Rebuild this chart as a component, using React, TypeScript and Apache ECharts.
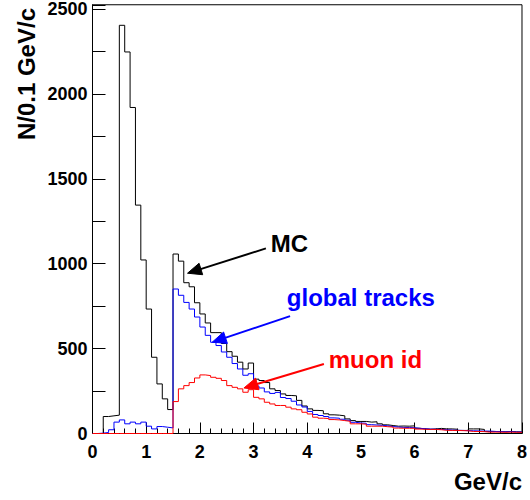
import React, { useEffect, useRef } from "react";
import * as echarts from "echarts";

const BIN_WIDTH = 0.1;
const X_TICK_LABELS = ["0", "1", "2", "3", "4", "5", "6", "7", "8"];
const Y_TICK_LABELS = ["0", "500", "1000", "1500", "2000", "2500"];

// counts per 0.1 GeV/c bin, bins starting at 0.0 .. 7.9
const MC = [
  0, 0, 100, 104, 108, 2404, 2247, 1920, 1345, 1022,
  733, 449, 292, 204, 141, 1057, 1015, 888, 864, 770,
  704, 651, 594, 594, 530, 482, 455, 420, 380, 415,
  320, 312, 300, 263, 253, 233, 224, 222, 195, 162,
  145, 136, 134, 116, 110, 108, 104, 86, 76, 71,
  71, 67, 69, 57, 51, 47, 43, 44, 43, 45,
  31, 27, 25, 27, 30, 27, 27, 25, 18, 18,
  27, 27, 24, 12, 12, 11, 10, 12, 10, 9,
];
const GLOBAL_TRACKS = [
  0, 2, 6, 22, 67, 80, 57, 67, 57, 67,
  43, 27, 41, 37, 33, 851, 814, 772, 733, 686,
  627, 578, 537, 518, 480, 449, 412, 380, 343, 352,
  280, 268, 245, 236, 242, 212, 206, 190, 168, 156,
  130, 112, 106, 100, 92, 90, 84, 78, 66, 62,
  60, 52, 50, 48, 45, 41, 38, 36, 35, 34,
  30, 28, 26, 25, 24, 22, 20, 19, 18, 17,
  16, 15, 14, 14, 12, 11, 10, 11, 9, 9,
];
const MUON_ID = [
  0, 0, 0, 0, 0, 0, 0, 0, 0, 0,
  0, 0, 0, 0, 0, 188, 263, 282, 300, 327,
  345, 341, 331, 325, 312, 282, 272, 263, 243, 258,
  213, 204, 184, 174, 165, 165, 155, 145, 140, 125,
  115, 96, 90, 88, 82, 80, 76, 72, 57, 57,
  55, 43, 43, 43, 40, 38, 32, 31, 31, 31,
  26, 25, 24, 24, 22, 19, 18, 18, 17, 16,
  12, 12, 11, 8, 8, 8, 7, 8, 7, 7,
];

// annotations in data coordinates: [label, color, labelX, labelY, arrowFrom, arrowTip]
const ANNOTATIONS: [string, string, number, number, number[], number[]][] = [
  ["MC", "#000000", 3.32, 1120, [3.23, 1090], [1.77, 944]],
  ["global tracks", "#0000ff", 3.62, 800, [3.68, 691], [2.23, 538]],
  ["muon id", "#ff0000", 4.4, 438, [4.31, 409], [2.82, 268]],
];

const FONT = '"Liberation Sans", Arial, Helvetica, sans-serif';

function histData(vals: number[]) {
  const d: number[][] = vals.map((v, i) => [Math.round(i) * BIN_WIDTH, v]);
  d.push([vals.length * BIN_WIDTH, vals[vals.length - 1]]);
  return d;
}

export default function App() {
  const ref = useRef<HTMLDivElement>(null);
  useEffect(() => {
    if (!ref.current) return;
    const chart = echarts.init(ref.current, null, { renderer: "svg" });
    const mk = (name: string, vals: number[], color: string) => ({
      name,
      type: "line",
      step: "end",
      symbol: "none",
      data: histData(vals),
      lineStyle: { color, width: 1 },
      clip: true,
      z: 3,
    });
    chart.setOption({
      animation: false,
      grid: {
        left: 92.5,
        right: 5,
        top: 4,
        bottom: 66.5,
        show: true,
        borderColor: "#000",
        borderWidth: 1,
        backgroundColor: "transparent",
      },
      xAxis: {
        type: "value",
        min: 0,
        max: 8,
        interval: 1,
        axisLine: { show: true, lineStyle: { color: "#000", width: 1 } },
        axisTick: { show: true, inside: true, length: 11, lineStyle: { color: "#000" } },
        minorTick: { show: true, splitNumber: 5, length: 5, lineStyle: { color: "#000" } },
        splitLine: { show: false },
        axisLabel: {
          color: "#000",
          fontSize: 18,
          fontWeight: "bold",
          fontFamily: FONT,
          margin: 9,
          formatter: (v: number) => X_TICK_LABELS[Math.round(v)] ?? "",
        },
      },
      yAxis: {
        type: "value",
        min: 0,
        max: 2525,
        interval: 250,
        axisLine: { show: true, lineStyle: { color: "#000", width: 1 } },
        axisTick: { show: true, inside: true, length: 13, lineStyle: { color: "#000" } },
        splitLine: { show: false },
        axisLabel: {
          color: "#000",
          fontSize: 18,
          fontWeight: "bold",
          fontFamily: FONT,
          margin: 5,
          formatter: (v: number) =>
            v % 500 === 0 ? Y_TICK_LABELS[v / 500] ?? "" : "",
        },
      },
      series: [
        mk("MC", MC, "#000000"),
        mk("global tracks", GLOBAL_TRACKS, "#0000ff"),
        mk("muon id", MUON_ID, "#ff0000"),
      ],
    });

    const graphics: any[] = [];
    ANNOTATIONS.forEach(([label, color, lx, ly, from, tip]) => {
      const lp = chart.convertToPixel({ gridIndex: 0 }, [lx, ly]) as number[];
      const fp = chart.convertToPixel({ gridIndex: 0 }, from) as number[];
      const tp = chart.convertToPixel({ gridIndex: 0 }, tip) as number[];
      const dx = tp[0] - fp[0];
      const dy = tp[1] - fp[1];
      const len = Math.sqrt(dx * dx + dy * dy);
      const ux = dx / len;
      const uy = dy / len;
      const L = 14;
      const W = 6;
      const bx = tp[0] - ux * L;
      const by = tp[1] - uy * L;
      const nx = -uy;
      const ny = ux;
      graphics.push({
        type: "text",
        x: lp[0],
        y: lp[1],
        z: 10,
        style: {
          text: label,
          fill: color,
          fontSize: 24,
          fontWeight: "bold",
          fontFamily: FONT,
          align: "left",
          verticalAlign: "middle",
        },
      });
      graphics.push({
        type: "line",
        z: 10,
        shape: { x1: fp[0], y1: fp[1], x2: bx + ux * 2, y2: by + uy * 2 },
        style: { stroke: color, lineWidth: 2 },
      });
      graphics.push({
        type: "polygon",
        z: 10,
        shape: {
          points: [
            [tp[0], tp[1]],
            [bx + nx * W, by + ny * W],
            [bx - nx * W, by - ny * W],
          ],
        },
        style: { fill: color, stroke: color, lineWidth: 1 },
      });
    });
    // axis titles
    graphics.push({
      type: "text",
      x: 522,
      y: 481,
      style: {
        text: "GeV/c",
        fill: "#000",
        fontSize: 24,
        fontWeight: "bold",
        fontFamily: FONT,
        align: "right",
        verticalAlign: "middle",
      },
    });
    graphics.push({
      type: "text",
      x: 26,
      y: 8,
      rotation: Math.PI / 2,
      style: {
        text: "N/0.1 GeV/c",
        fill: "#000",
        fontSize: 24,
        fontWeight: "bold",
        fontFamily: FONT,
        align: "right",
        verticalAlign: "middle",
      },
    });
    chart.setOption({ graphic: { elements: graphics } });

    return () => chart.dispose();
  }, []);
  return (
    <div
      ref={ref}
      style={{ position: "absolute", left: 0, top: 0, width: 530, height: 500 }}
    />
  );
}
